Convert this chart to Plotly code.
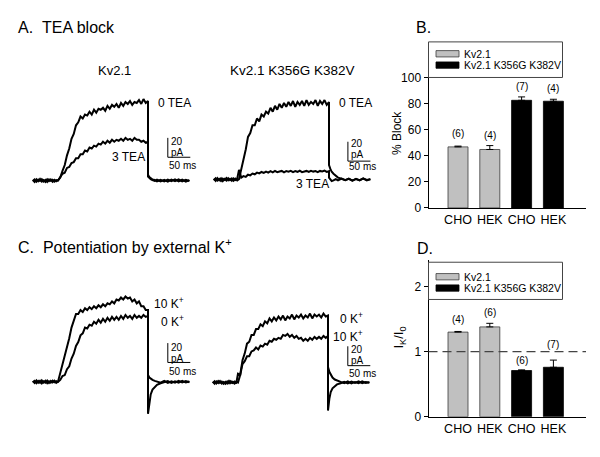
import plotly.graph_objects as go

W, H = 600, 457
FONT = "Liberation Sans, Arial, sans-serif"

# ---------------- data: current traces (pA vs ms, step onset at 0 ms) ----------------
T_PRE = [-56, -52, -48, -44, -40, -36, -32, -28, -24, -20, -16, -12, -8, -4, 0]
T_STEP = [5, 10, 15, 20, 25, 30, 35, 40, 45, 50,
          55, 60, 65, 70, 75, 80, 85, 90, 95, 100,
          105, 110, 115, 120, 125, 130, 135, 140, 145, 150,
          155, 160, 165, 170, 175, 180, 185, 190, 195, 200]
T_POST = [200, 203, 206, 210, 215, 220, 228, 236, 244, 252, 260, 268, 276, 284, 292]

# A. TEA block, Kv2.1
A_WT_0TEA_PRE = [0.5, -1.5, 1.2, -0.8, 1.6, -1.1, 0.4, -1.4, 1.3, -0.6, 1.0, -1.3, 0.7, -0.9, 0.2]
A_WT_0TEA = [3, 10, 16, 26, 33, 43, 48, 57, 60, 66,
             64, 68, 67, 71, 68, 73, 70, 74, 73, 75,
             72, 77, 74, 78, 76, 79, 75, 80, 77, 81,
             79, 82, 78, 81, 80, 83, 79, 84, 80, 82]
A_WT_0TEA_POST = [6, 3.5, 2, 1, 0.5, -0.8, 0.6, -1, 0.9, -0.7, 1.1, -0.9, 0.8, -1.2, 0.5]
A_WT_3TEA_PRE = [-0.6, 1.1, -1.3, 0.9, -0.4, 1.4, -1.0, 0.7, -1.5, 1.2, -0.3, 0.8, -1.1, 0.5, 0]
A_WT_3TEA = [3, 7, 8, 13, 14, 18, 19, 23, 23, 27,
             27, 31, 30, 34, 33, 36, 35, 38, 37, 40,
             38, 41, 39, 42, 40, 42, 41, 43, 41, 44,
             42, 43, 41, 44, 42, 42, 40, 41, 39, 40]
A_WT_3TEA_POST = [4, 2.5, 1.5, 0.5, -0.5, 0.8, -0.9, 0.6, -1.1, 0.9, -0.6, 1.2, -0.8, 0.7, -0.5]

# A. TEA block, Kv2.1 K356G K382V
A_MUT_0TEA_PRE = [0.9, -1.4, 1.5, -0.7, 1.2, -1.6, 0.6, -1.0, 1.4, -0.5, 1.1, -1.2, 0.8, -1.0, 0.3]
A_MUT_0TEA = [10, 23, 31, 44, 48, 56, 56, 63, 60, 67,
              65, 70, 68, 74, 70, 76, 72, 78, 74, 79,
              75, 80, 76, 81, 75, 80, 77, 81, 76, 82,
              77, 80, 78, 82, 76, 81, 78, 82, 77, 80]
A_MUT_0TEA_POST = [15, 11, 8, 6, 3.5, 2, 0.8, -0.6, 1.0, -1.1, 0.7, -0.8, 1.2, -0.9, 0.4]
A_MUT_3TEA_PRE = [-0.8, 1.3, -1.1, 0.6, -1.5, 1.0, -0.4, 1.6, -0.9, 0.7, -1.3, 1.2, -0.5, 0.9, 10]
A_MUT_3TEA = [2, 3.5, 2.8, 5, 4.3, 6.2, 5.4, 7.1, 6.3, 7.8,
              6.9, 8.2, 7.2, 8.6, 7.4, 8.9, 7.6, 8.3, 8.9, 7.5,
              8.7, 8.1, 9.0, 7.7, 8.8, 8.0, 9.1, 7.6, 8.5, 8.9,
              7.8, 9.0, 8.2, 8.7, 7.6, 8.9, 8.3, 9.2, 7.9, 8.6]
A_MUT_3TEA_POST = [2, 0.5, -1.5, -0.8, 0.5, -0.9, 1.0, -0.6, 0.8, -1.2, 0.6, -0.7, 1.1, -0.5, 0.3]

# C. Potentiation by external K+, Kv2.1
C_WT_10K_PRE = [0.7, -1.2, 1.4, -0.9, 1.1, -1.5, 0.5, -0.8, 1.3, -1.1, 0.9, -0.6, 1.2, -1.0, 0.2]
C_WT_10K = [9, 19, 26, 37, 45, 56, 63, 70, 70, 74,
            72, 76, 74, 77, 75, 78, 76, 79, 77, 80,
            78, 81, 80, 83, 81, 85, 84, 87, 85, 88,
            86, 87, 83, 85, 81, 83, 78, 78, 74, 74]
C_WT_10K_POST = [-33, -20, -13, -8, -5, -3, -1.5, -0.5, 0.8, -1.0, 0.6, -0.8, 1.1, -0.7, 0.4]
C_WT_0K_PRE = [-0.5, 1.0, -1.4, 0.8, -1.0, 1.5, -0.7, 1.2, -1.3, 0.6, -0.9, 1.3, -0.4, 0.7, 0]
C_WT_0K = [2, 6, 7, 13, 16, 24, 29, 37, 41, 48,
           50, 56, 55, 59, 58, 62, 60, 64, 61, 65,
           62, 66, 63, 67, 64, 67, 64, 68, 65, 69,
           66, 68, 65, 69, 66, 68, 66, 69, 67, 68]
C_WT_0K_POST = [7, 4.5, 3, 2, 1, 0.4, -0.8, 0.9, -1.0, 0.6, -0.9, 1.1, -0.6, 0.8, -0.4]

# C. Potentiation by external K+, Kv2.1 K356G K382V
C_MUT_0K_PRE = [0.8, -1.3, 1.1, -0.6, 1.5, -1.1, 0.4, -1.4, 1.0, -0.8, 1.3, -0.5, 0.9, -1.2, 9]
C_MUT_0K = [8, 23, 30, 40, 42, 49, 49, 55, 55, 60,
            58, 63, 61, 66, 63, 67, 64, 68, 65, 69,
            64, 68, 66, 70, 65, 69, 67, 70, 66, 69,
            67, 71, 66, 70, 68, 70, 67, 71, 68, 69]
C_MUT_0K_POST = [16, 11, 8, 5, 3, 1.8, 0.6, -0.7, 1.0, -1.1, 0.5, -0.8, 1.2, -0.6, 0.3]
C_MUT_10K_PRE = [-0.7, 1.2, -1.0, 1.4, -0.5, 0.9, -1.3, 0.6, -1.1, 1.5, -0.8, 0.7, -1.2, 1.0, 0]
C_MUT_10K = [8, 19, 22, 27, 27, 32, 33, 36, 34, 38,
             37, 40, 39, 43, 42, 45, 44, 46, 45, 49,
             48, 50, 47, 49, 46, 48, 45, 46, 43, 45,
             43, 46, 44, 47, 45, 47, 45, 48, 46, 48]
C_MUT_10K_POST = [-29, -17, -10, -6, -3.5, -2, -0.8, 0.6, -1.0, 0.9, -0.6, 1.1, -0.8, 0.5, -0.3]

SCALE_PA = 20
SCALE_MS = 50

# ---------------- data: bar charts ----------------
CATEGORIES = ["CHO", "HEK", "CHO", "HEK"]
SERIES = ["Kv2.1", "Kv2.1 K356G K382V"]
BLOCK_WT = [46.8, 44.8]
BLOCK_WT_ERR = [0.6, 3.0]
BLOCK_MUT = [82.5, 81.8]
BLOCK_MUT_ERR = [2.6, 1.5]
N_BLOCK = ["(6)", "(4)", "(7)", "(4)"]
BLOCK_TICKS = [0, 20, 40, 60, 80, 100]

RATIO_WT = [1.30, 1.38]
RATIO_WT_ERR = [0.01, 0.055]
RATIO_MUT = [0.71, 0.76]
RATIO_MUT_ERR = [0.01, 0.11]
N_RATIO = ["(4)", "(6)", "(6)", "(7)"]
RATIO_TICKS = [0, 1, 2]
CONTROL_RATIO = 1.0

GRAY = "#c0c0c0"
EDGE = "#3a3a3a"

# ---------------- layout helpers (pixels -> paper) ----------------
def xd(a, b):
    return [a / W, b / W]


def yd(top, bottom):
    return [1 - bottom / H, 1 - top / H]


def px(x):
    return x / W


def py(y):
    return 1 - y / H


PX_PER_MS = 0.45
PX_PER_PA = 1.0

fig = go.Figure()

# trace panels: axis suffix, x-domain px, onset px, y-domain px, baseline px
PANELS = {
    "A1": dict(ax="", x0=32, x1=191, onset=58, top=85, bottom=195, base=179, sb_t=244, sb_i=24),
    "A2": dict(ax="2", x0=212, x1=372, onset=239, top=85, bottom=195, base=178, sb_t=242, sb_i=19),
    "C1": dict(ax="4", x0=32, x1=191, onset=58, top=280, bottom=430, base=386.7, sb_t=244, sb_i=20),
    "C2": dict(ax="5", x0=212, x1=372, onset=238, top=280, bottom=430, base=387.3, sb_t=244, sb_i=17.3),
}

for key, p in PANELS.items():
    ax = p["ax"]
    xr = [(p["x0"] - p["onset"]) / PX_PER_MS, (p["x1"] - p["onset"]) / PX_PER_MS]
    yr = [(p["base"] - p["bottom"]) / PX_PER_PA, (p["base"] - p["top"]) / PX_PER_PA]
    fig.layout["xaxis" + ax] = dict(domain=xd(p["x0"], p["x1"]), range=xr, visible=False,
                                    anchor="y" + ax)
    fig.layout["yaxis" + ax] = dict(domain=yd(p["top"], p["bottom"]), range=yr, visible=False,
                                    anchor="x" + ax)

TIME = T_PRE + T_STEP + T_POST
TRACES = [
    ("A1", A_WT_0TEA_PRE + A_WT_0TEA + A_WT_0TEA_POST),
    ("A1", A_WT_3TEA_PRE + A_WT_3TEA + A_WT_3TEA_POST),
    ("A2", A_MUT_0TEA_PRE + A_MUT_0TEA + A_MUT_0TEA_POST),
    ("A2", A_MUT_3TEA_PRE + A_MUT_3TEA + A_MUT_3TEA_POST),
    ("C1", C_WT_0K_PRE + C_WT_0K + C_WT_0K_POST),
    ("C1", C_WT_10K_PRE + C_WT_10K + C_WT_10K_POST),
    ("C2", C_MUT_10K_PRE + C_MUT_10K + C_MUT_10K_POST),
    ("C2", C_MUT_0K_PRE + C_MUT_0K + C_MUT_0K_POST),
]
for key, vals in TRACES:
    ax = PANELS[key]["ax"]
    fig.add_trace(go.Scatter(x=TIME, y=vals, mode="lines",
                             line=dict(color="black", width=2),
                             xaxis="x" + ax, yaxis="y" + ax,
                             showlegend=False, hoverinfo="skip"))

# scale bars (20 pA, 50 ms)
for key, p in PANELS.items():
    ax = p["ax"]
    t0, i0 = p["sb_t"], p["sb_i"]
    fig.add_trace(go.Scatter(x=[t0, t0, t0 + SCALE_MS], y=[i0 + SCALE_PA, i0, i0],
                             mode="lines", line=dict(color="black", width=1),
                             xaxis="x" + ax, yaxis="y" + ax,
                             showlegend=False, hoverinfo="skip"))

# ---------------- bar panels ----------------
CENTER0, SPACING = 458.0, 31.8
BX0, BX1 = 428.5, 586
bar_xr = [(BX0 - CENTER0) / SPACING, (BX1 - CENTER0) / SPACING]
BAR_W = 20 / SPACING
X_POS = [0, 1, 2, 3]

line_common = dict(showline=True, linecolor="black", linewidth=1, showgrid=False,
                   zeroline=False, tickcolor="black")
ytick_font = dict(size=12, color="black", family=FONT)
xtick_font = dict(size=12.5, color="black", family=FONT)

fig.layout["xaxis3"] = dict(domain=xd(BX0, BX1), range=bar_xr, anchor="y3", ticks="",
                            tickvals=X_POS, ticktext=CATEGORIES, tickfont=xtick_font,
                            **line_common)
fig.layout["yaxis3"] = dict(domain=yd(72.7, 207.3), range=[0, 100], anchor="x3",
                            ticks="outside", ticklen=4, tickvals=BLOCK_TICKS,
                            tickfont=ytick_font, **line_common)
fig.layout["xaxis6"] = dict(domain=xd(BX0, BX1), range=bar_xr, anchor="y6", ticks="",
                            tickvals=X_POS, ticktext=CATEGORIES, tickfont=xtick_font,
                            **line_common)
fig.layout["yaxis6"] = dict(domain=yd(261.5, 422.7), range=[0, 2.4], anchor="x6",
                            ticks="outside", ticklen=4, tickvals=RATIO_TICKS,
                            tickfont=ytick_font, **line_common)


def add_bars(xa, ya, wt, wt_err, mut, mut_err):
    fig.add_trace(go.Bar(x=X_POS[:2], y=wt, width=BAR_W, name=SERIES[0],
                         marker=dict(color=GRAY, line=dict(color=EDGE, width=0.8)),
                         error_y=dict(type="data", symmetric=False, array=wt_err,
                                      arrayminus=[0, 0], color="black", thickness=1, width=3.5),
                         xaxis=xa, yaxis=ya, showlegend=False, hoverinfo="skip"))
    fig.add_trace(go.Bar(x=X_POS[2:], y=mut, width=BAR_W, name=SERIES[1],
                         marker=dict(color="black", line=dict(color="black", width=0.8)),
                         error_y=dict(type="data", symmetric=False, array=mut_err,
                                      arrayminus=[0, 0], color="black", thickness=1, width=3.5),
                         xaxis=xa, yaxis=ya, showlegend=False, hoverinfo="skip"))


add_bars("x3", "y3", BLOCK_WT, BLOCK_WT_ERR, BLOCK_MUT, BLOCK_MUT_ERR)
add_bars("x6", "y6", RATIO_WT, RATIO_WT_ERR, RATIO_MUT, RATIO_MUT_ERR)

annotations = []


def note(text, x, y, size, xanchor="left", yanchor="middle", angle=0):
    annotations.append(dict(text=text, x=px(x), y=py(y), xref="paper", yref="paper",
                            xanchor=xanchor, yanchor=yanchor, showarrow=False, textangle=angle,
                            font=dict(size=size, color="black", family=FONT)))


# n labels above bars (pixel gap above each error cap)
N_GAP_B = [5, 3, 3, 3]
N_GAP_D = [4, 3.5, 1.5, 8]
for xa, ya, vals, errs, labels, gaps in [
    ("x3", "y3", BLOCK_WT + BLOCK_MUT, BLOCK_WT_ERR + BLOCK_MUT_ERR, N_BLOCK, N_GAP_B),
    ("x6", "y6", RATIO_WT + RATIO_MUT, RATIO_WT_ERR + RATIO_MUT_ERR, N_RATIO, N_GAP_D),
]:
    for xi, v, e, lab, g in zip(X_POS, vals, errs, labels, gaps):
        annotations.append(dict(text=lab, x=xi, y=v + e, xref=xa, yref=ya, xanchor="center",
                                yanchor="bottom", yshift=g, showarrow=False,
                                font=dict(size=10, color="black", family=FONT)))

# dashed control line at I_K/I_0 = 1
fig.add_shape(type="line", xref="x6 domain", yref="y6", x0=0, x1=1,
              y0=CONTROL_RATIO, y1=CONTROL_RATIO,
              line=dict(color="#444444", width=1.4, dash="9px,5px"))

# legends (drawn boxes)
shapes = []
for top, bottom, s1, s2 in [(36, 72.7, 45, 56.7), (263.3, 301.7, 275, 286.7)]:
    shapes.append(dict(type="rect", xref="paper", yref="paper", x0=px(428.5), x1=px(562.5),
                       y0=py(bottom), y1=py(top), line=dict(color="#444444", width=1),
                       fillcolor="white", layer="above"))
    shapes.append(dict(type="rect", xref="paper", yref="paper", x0=px(436), x1=px(459),
                       y0=py(s1 + 6.5), y1=py(s1), line=dict(color=EDGE, width=0.8),
                       fillcolor=GRAY, layer="above"))
    shapes.append(dict(type="rect", xref="paper", yref="paper", x0=px(436), x1=px(459),
                       y0=py(s2 + 6.5), y1=py(s2), line=dict(color="black", width=0.8),
                       fillcolor="black", layer="above"))
    note(SERIES[0], 462, s1 + 3.3, 10.5)
    note(SERIES[1], 462, s2 + 3.3, 10.5)
for s in shapes:
    fig.add_shape(**s)

# panel titles
note("A.\u00a0\u00a0TEA block", 16, 21, 16)
note("B.", 413.5, 21, 16)
note("C.\u00a0\u00a0Potentiation by external K<sup>+</sup>", 16, 247, 16)
note("D.", 414.5, 249, 16)
note(SERIES[0], 114, 66, 13, xanchor="center")
note(SERIES[1], 292.5, 66, 13.5, xanchor="center")

# axis titles
note("% Block", 397, 130, 12, xanchor="center", angle=-90)
note("I<sub>K</sub>/I<sub>0</sub>", 400, 341, 13, xanchor="center", angle=-90)

# trace labels
note("0 TEA", 156, 99, 12)
note("3 TEA", 147, 155, 12, xanchor="right")
note("0 TEA", 337, 99, 12)
note("3 TEA", 293.5, 183, 12)
note("10 K<sup>+</sup>", 152, 305, 12)
note("0 K<sup>+</sup>", 158.5, 324, 12)
note("0 K<sup>+</sup>", 337.5, 321, 12)
note("10 K<sup>+</sup>", 331, 339, 12)

# scale bar labels
for x, y20, ypa, yms in [(168, 139, 150.5, 163.5), (348, 141, 152, 164.5),
                         (168, 351, 362.5, 376), (348, 353.5, 365, 378)]:
    note(str(SCALE_PA), x + 1, y20, 10)
    note("pA", x + 1, ypa, 10)
    note(f"{SCALE_MS} ms", x - 1.5, yms, 10)

fig.update_layout(width=W, height=H, margin=dict(l=0, r=0, t=0, b=0),
                  paper_bgcolor="white", plot_bgcolor="rgba(0,0,0,0)",
                  barmode="overlay", annotations=annotations, hovermode=False,
                  font=dict(family=FONT, color="black"))

fig.write_html("out.html", config={"displayModeBar": False, "staticPlot": True},
               post_script="document.body.style.margin='0';")
